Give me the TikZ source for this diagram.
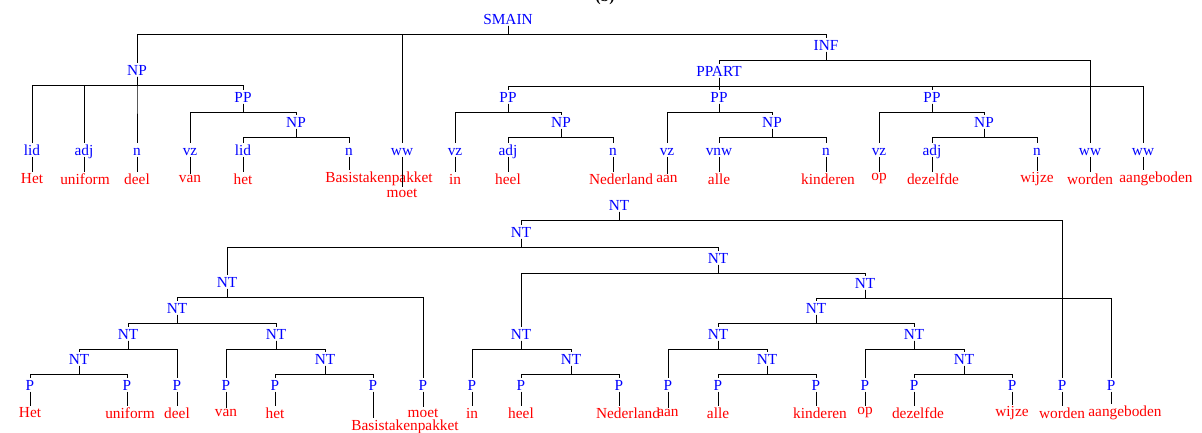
\documentclass[tikz,border=0pt]{standalone}
\usepackage{fontspec}
\setmainfont{Liberation Serif}

\begin{document}
\begin{tikzpicture} [x=.75pt, y=-.75pt, font=\fontsize{11.5}{13}\selectfont,
  cat/.style={blue, inner sep=1pt, text height=7.6pt, text depth=0pt},
  wrd/.style={red, inner sep=1pt},
  edge/.style={black, line width=.7pt}]
\useasboundingbox (0,0) rectangle (1202,432);
\node[anchor=base, font=\fontsize{11.5}{13}\selectfont\bfseries] (caption) at (605,1.5) {(b)};

\node[cat] (smain) at (508,19) {SMAIN};
\node[cat] (np1) at (137,70) {NP};
\node[cat] (inf) at (826,45) {INF};
\node[cat] (pp1) at (243,97) {PP};
\node[cat] (np2) at (296,122) {NP};
\node[cat] (ppart) at (719,71) {PPART};
\node[cat] (pp2) at (508,97) {PP};
\node[cat] (np3) at (561,122) {NP};
\node[cat] (pp3) at (719,97) {PP};
\node[cat] (np4) at (772,122) {NP};
\node[cat] (pp4) at (932,97) {PP};
\node[cat] (np5) at (984,122) {NP};

\foreach \i/\x/\c/\w/\wx/\wy in {1/32/lid/Het/32/179, 2/84/adj/uniform/85/179, 3/137/n/deel/137/179, 4/190/vz/van/190/179, 5/243/lid/het/243/179, 6/349/n/Basistakenpakket/379/179, 7/402/ww/moet/402/193, 8/455/vz/in/455/179, 9/508/adj/heel/508/179, 10/613/n/Nederland/621/179, 11/667/vz/aan/667/179, 12/719/vnw/alle/719/179, 13/826/n/kinderen/828/179, 14/879/vz/op/879/179, 15/932/adj/dezelfde/933/179, 16/1037/n/wijze/1037/179, 17/1090/ww/worden/1090/179, 18/1143/ww/aangeboden/1156/179} {
  \node[cat] (tag\i) at (\x,150) {\c};
  \node[wrd] (tw\i) at (\wx,\wy) {\w};
  \draw[edge] (tag\i.south) -- (tag\i.south |- tw\i.north);
}

\foreach \p/\c in {smain/np1, smain/tag7, smain/inf, np1/tag1, np1/tag2, np1/tag3, np1/pp1, pp1/tag4, pp1/np2, np2/tag5, np2/tag6, inf/ppart, inf/tag17, ppart/pp2, ppart/pp3, ppart/pp4, ppart/tag18, pp2/tag8, pp2/np3, np3/tag9, np3/tag10, pp3/tag11, pp3/np4, np4/tag12, np4/tag13, pp4/tag14, pp4/np5, np5/tag15, np5/tag16} \draw[edge] (\p.south) -- ++(0,8.6) -| (\c.north);

\node[cat] (nt1) at (619,205) {NT};
\node[cat] (nt2) at (521,232) {NT};
\node[cat] (nt3) at (227,282) {NT};
\node[cat] (nt4) at (177,308) {NT};
\node[cat] (nt5) at (128,334) {NT};
\node[cat] (nt6) at (79,359) {NT};
\node[cat] (nt7) at (276,334) {NT};
\node[cat] (nt8) at (325,359) {NT};
\node[cat] (nt9) at (718,258) {NT};
\node[cat] (nt10) at (521,334) {NT};
\node[cat] (nt11) at (571,359) {NT};
\node[cat] (nt12) at (865,283) {NT};
\node[cat] (nt13) at (816,308) {NT};
\node[cat] (nt14) at (718,334) {NT};
\node[cat] (nt15) at (767,359) {NT};
\node[cat] (nt16) at (914,334) {NT};
\node[cat] (nt17) at (964,359) {NT};

\foreach \i/\x/\w/\wx/\wy in {1/30/Het/30/413, 2/127/uniform/130/413, 3/177/deel/177/413, 4/226/van/226/413, 5/275/het/275/413, 6/373/Basistakenpakket/405/427, 7/423/moet/423/413, 8/472/in/472/413, 9/521/heel/521/413, 10/619/Nederland/628/413, 11/668/aan/668/413, 12/718/alle/718/413, 13/816/kinderen/820/413, 14/865/op/865/413, 15/914/dezelfde/918/413, 16/1012/wijze/1012/413, 17/1062/worden/1062/413, 18/1111/aangeboden/1125/413} {
  \node[cat] (p\i) at (\x,385) {P};
  \node[wrd] (bw\i) at (\wx,\wy) {\w};
  \draw[edge] (p\i.south) -- (p\i.south |- bw\i.north);
}

\foreach \p/\c in {nt1/nt2, nt1/p17, nt2/nt3, nt2/nt9, nt3/nt4, nt3/p7, nt4/nt5, nt4/nt7, nt5/nt6, nt5/p3, nt6/p1, nt6/p2, nt7/p4, nt7/nt8, nt8/p5, nt8/p6, nt9/nt10, nt9/nt12, nt10/p8, nt10/nt11, nt11/p9, nt11/p10, nt12/nt13, nt12/p18, nt13/nt14, nt13/nt16, nt14/p11, nt14/nt15, nt15/p12, nt15/p13, nt16/p14, nt16/nt17, nt17/p15, nt17/p16} \draw[edge] (\p.south) -- ++(0,8.6) -| (\c.north);

\end{tikzpicture}
\end{document}
